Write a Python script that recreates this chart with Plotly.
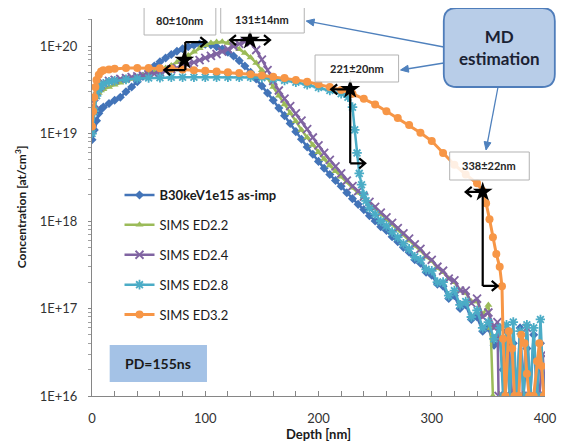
import math
import plotly.graph_objects as go

# ---------------- data ----------------
asimp_depth = [0, 2, 4, 6, 8, 10, 15, 20, 25, 30, 35, 40, 45, 50, 55, 60, 65, 70, 75, 80, 85, 90, 95, 100,
               105, 110, 115, 120, 125, 130, 135, 140, 145, 150, 155, 160, 165, 170, 175, 180, 185, 190,
               195, 200, 205, 210, 215, 220, 225, 230, 235, 240, 245, 250, 255, 260, 265, 270, 275, 280,
               285, 290, 295, 300, 305, 310, 315, 320, 325, 330, 335, 340, 345, 350, 355, 360, 363, 366,
               369, 372, 375, 378, 381, 384, 387, 390, 393, 396, 399]
asimp_conc = [8.5e18, 1.1e19, 1.4e19, 1.7e19, 1.9e19, 2.0e19, 2.2e19, 2.4e19, 2.6e19, 3.0e19, 3.4e19,
              3.9e19, 4.5e19, 5.2e19, 5.9e19, 6.6e19, 7.3e19, 8.0e19, 8.7e19, 9.3e19, 9.8e19, 1.02e20,
              1.05e20, 1.05e20, 1.03e20, 9.8e19, 9.2e19, 8.5e19, 7.7e19, 6.8e19, 5.9e19, 5.0e19, 4.2e19,
              3.5e19, 2.9e19, 2.4e19, 1.95e19, 1.6e19, 1.3e19, 1.05e19, 8.6e18, 7.0e18, 5.8e18, 4.8e18,
              4.0e18, 3.4e18, 2.9e18, 2.5e18, 2.1e18, 1.8e18, 1.55e18, 1.35e18, 1.15e18, 1.0e18, 8.6e17,
              7.8e17, 6.6e17, 5.8e17, 5.0e17, 4.4e17, 3.6e17, 3.3e17, 2.6e17, 2.4e17, 1.9e17, 1.8e17,
              1.3e17, 1.4e17, 1.0e17, 1.1e17, 7.5e16, 8.0e16, 5.5e16, 6.0e16, 3.8e16, 4.5e16, 2.0e16,
              5.5e16, 1.0e16, 4.0e16, 1.0e16, 6.0e16, 1.0e16, 3.5e16, 1.0e16, 5.0e16, 1.0e16, 4.0e16, 1.0e16]

ed22_depth = [0, 2, 4, 6, 8, 10, 15, 20, 25, 30, 35, 40, 45, 50, 55, 60, 65, 70, 75, 80, 85, 90, 95, 100,
              105, 110, 115, 120, 125, 130, 135, 140, 145, 150, 155, 160, 165, 170, 175, 180, 185, 190,
              195, 200, 205, 210, 215, 220, 225, 230, 235, 240, 245, 250, 255, 260, 265, 270, 275, 280,
              285, 290, 295, 300, 305, 310, 315, 320, 325, 330, 335, 340, 345, 350, 352, 354]
ed22_conc = [1.2e19, 2.0e19, 2.6e19, 2.9e19, 3.1e19, 3.2e19, 3.4e19, 3.6e19, 3.8e19, 4.0e19, 4.2e19,
             4.4e19, 4.6e19, 4.8e19, 5.0e19, 5.3e19, 5.6e19, 6.0e19, 6.5e19, 7.1e19, 7.8e19, 8.6e19,
             9.4e19, 1.02e20, 1.08e20, 1.11e20, 1.12e20, 1.08e20, 1.0e20, 9.2e19, 8.3e19, 7.4e19, 6.4e19,
             5.3e19, 4.3e19, 3.4e19, 2.7e19, 2.15e19, 1.7e19, 1.38e19, 1.1e19, 9.0e18, 7.4e18, 6.1e18,
             5.1e18, 4.3e18, 3.7e18, 3.2e18, 2.8e18, 2.4e18, 2.1e18, 1.85e18, 1.6e18, 1.4e18, 1.2e18,
             1.05e18, 9.2e17, 8.0e17, 7.0e17, 6.0e17, 5.2e17, 4.6e17, 3.9e17, 3.5e17, 2.9e17, 2.6e17,
             2.2e17, 2.0e17, 1.6e17, 1.5e17, 1.2e17, 1.2e17, 8.5e16, 1.1e17, 6.0e16, 1.0e16]

ed24_depth = [0, 2, 4, 6, 8, 10, 15, 20, 25, 30, 35, 40, 45, 50, 55, 60, 65, 70, 75, 80, 85, 90, 95, 100,
              105, 110, 115, 120, 125, 130, 135, 140, 145, 150, 155, 160, 165, 170, 175, 180, 185, 190,
              195, 200, 205, 210, 215, 220, 225, 230, 235, 240, 245, 250, 255, 260, 265, 270, 275, 280,
              285, 290, 295, 300, 305, 310, 315, 320, 325, 330, 335, 340, 345, 350, 355, 358, 359, 365,
              368, 371, 380, 384, 387, 395, 398, 400]
ed24_conc = [1.1e19, 2.2e19, 3.0e19, 3.4e19, 3.6e19, 3.8e19, 4.0e19, 4.1e19, 4.2e19, 4.3e19, 4.4e19,
             4.5e19, 4.6e19, 4.7e19, 4.8e19, 5.0e19, 5.2e19, 5.4e19, 5.6e19, 5.9e19, 6.2e19, 6.5e19,
             6.9e19, 7.3e19, 7.7e19, 8.1e19, 8.6e19, 9.2e19, 9.9e19, 1.06e20, 1.12e20, 1.1e20, 9.0e19,
             7.0e19, 5.3e19, 4.0e19, 3.1e19, 2.5e19, 2.05e19, 1.7e19, 1.4e19, 1.12e19, 9.0e18, 7.3e18,
             6.0e18, 5.0e18, 4.2e18, 3.5e18, 2.9e18, 2.5e18, 2.2e18, 1.9e18, 1.65e18, 1.45e18, 1.25e18,
             1.1e18, 9.5e17, 8.3e17, 7.2e17, 6.3e17, 5.4e17, 4.8e17, 4.0e17, 3.6e17, 3.0e17, 2.7e17,
             2.2e17, 2.1e17, 1.6e17, 1.6e17, 1.15e17, 1.3e17, 8.0e16, 9.0e16, 6.0e16, 7.0e16, 1.0e16,
             1.0e16, 4.0e16, 1.0e16, 1.0e16, 6.0e16, 1.0e16, 1.0e16, 3.0e16, 1.0e16]

ed28_depth = [0, 2, 4, 6, 8, 10, 15, 20, 30, 40, 50, 60, 70, 80, 90, 100, 110, 120, 130, 140, 150, 160,
              170, 180, 190, 200, 210, 220, 226, 230, 232, 234, 236, 238, 240, 242, 245, 250, 255, 260,
              265, 270, 275, 280, 285, 290, 295, 300, 305, 310, 315, 320, 325, 330, 335, 340, 345, 350,
              355, 360, 363, 366, 369, 372, 375, 378, 381, 384, 387, 390, 393, 396, 399]
ed28_conc = [1.0e19, 1.8e19, 2.7e19, 3.2e19, 3.5e19, 3.7e19, 3.9e19, 4.0e19, 4.15e19, 4.25e19, 4.3e19,
             4.35e19, 4.4e19, 4.4e19, 4.4e19, 4.4e19, 4.4e19, 4.4e19, 4.4e19, 4.4e19, 4.35e19, 4.2e19,
             4.05e19, 3.85e19, 3.6e19, 3.35e19, 3.1e19, 2.85e19, 2.6e19, 2.0e19, 1.1e19, 6.0e18, 3.5e18,
             2.6e18, 2.0e18, 1.7e18, 1.4e18, 1.2e18, 1.0e18, 8.8e17, 7.5e17, 6.5e17, 5.5e17, 4.8e17,
             3.9e17, 3.6e17, 2.8e17, 2.7e17, 2.0e17, 2.0e17, 1.4e17, 1.6e17, 1.1e17, 1.2e17, 8.0e16,
             9.5e16, 6.0e16, 7.0e16, 4.5e16, 6.0e16, 1.0e16, 6.5e16, 1.0e16, 7.0e16, 1.0e16, 5.5e16,
             1.0e16, 6.5e16, 1.0e16, 6.0e16, 1.0e16, 7.5e16, 1.0e16]

ed32_depth = [0, 1, 2, 3, 4, 6, 8, 10, 15, 20, 30, 40, 50, 60, 70, 80, 90, 100, 110, 120, 130, 140, 150,
              160, 170, 180, 190, 200, 210, 220, 230, 240, 250, 260, 270, 280, 290, 300, 310, 320, 330,
              340, 345, 348, 351, 354, 357, 360, 362, 363, 365, 368, 371, 373, 377, 379, 382, 384, 386,
              390, 393, 395, 397, 399]
ed32_conc = [1.2e19, 1.8e19, 2.6e19, 3.4e19, 4.1e19, 4.7e19, 5.1e19, 5.3e19, 5.4e19, 5.5e19, 5.6e19,
             5.6e19, 5.6e19, 5.55e19, 5.5e19, 5.4e19, 5.3e19, 5.2e19, 5.1e19, 5.0e19, 4.9e19, 4.75e19,
             4.6e19, 4.45e19, 4.3e19, 4.1e19, 3.9e19, 3.65e19, 3.4e19, 3.15e19, 2.85e19, 2.5e19, 2.15e19,
             1.8e19, 1.5e19, 1.25e19, 1.02e19, 8.2e18, 6.0e18, 4.4e18, 3.4e18, 2.7e18, 2.2e18, 1.6e18,
             1.05e18, 6.5e17, 4.2e17, 3.0e17, 1.8e17, 4.5e16, 1.0e16, 5.5e16, 3.5e16, 1.0e16, 1.0e16,
             5.0e16, 4.0e16, 1.8e16, 1.0e16, 1.0e16, 2.5e16, 4.0e16, 2.2e16, 1.0e16]

series_names = ["<b>B30keV1e15 as-imp</b>", "SIMS ED2.2", "SIMS ED2.4", "SIMS ED2.8", "SIMS ED3.2"]

# MD-estimated depths (star positions) and their labels
md_depth = [81.5, 139.5, 228.0, 345.0]
md_conc = [6.9e19, 1.17e20, 3.2e19, 2.15e18]
md_labels = ["80±10nm", "131±14nm", "221±20nm", "338±22nm"]

y_tick_vals = [1e16, 1e17, 1e18, 1e19, 1e20]
y_tick_text = ["1E+16", "1E+17", "1E+18", "1E+19", "1E+20"]
x_tick_vals = [0, 100, 200, 300, 400]

# ---------------- geometry helpers ----------------
# page body has an 8px margin, so the figure is drawn 8px in from the top-left corner
W, H = 560, 436
L, R, T, B = 84, 15, 11, 48
PW, PH = W - L - R, H - T - B
SX0, SY1 = 92, 396          # screen position of the plot's left edge and bottom edge
YMIN, YMAX = 16.0, 16.0 + PH / 87.5
FONT = "Lato"


def P(px, py):
    """screen pixel -> paper coordinates"""
    return (px - SX0) / PW, (SY1 - py) / PH


def y_paper(c):
    return (math.log10(c) - YMIN) / (YMAX - YMIN)


colors = ["#4374B8", "#9BBB59", "#8064A2", "#4BACC6", "#F79646"]

fig = go.Figure()

series = [
    (asimp_depth, asimp_conc, dict(symbol="diamond", size=7, color=colors[0]), 2.5),
    (ed22_depth, ed22_conc, dict(symbol="triangle-up", size=7, color=colors[1]), 2.5),
    (ed24_depth, ed24_conc, dict(symbol="x-thin", size=8, color=colors[2],
                                 line=dict(width=1.8, color=colors[2])), 2.5),
    (ed28_depth, ed28_conc, dict(symbol="asterisk", size=8, color=colors[3],
                                 line=dict(width=1.8, color=colors[3])), 2.5),
    (ed32_depth, ed32_conc, dict(symbol="circle", size=8, color=colors[4]), 3),
]
for i, (dx, dy, mk, lw) in enumerate(series):
    fig.add_trace(go.Scatter(
        x=dx, y=dy, mode="lines+markers", name=series_names[i],
        legendgroup=f"g{i}",
        line=dict(color=colors[i], width=lw),
        marker=mk,
    ))

# MD stars
fig.add_trace(go.Scatter(
    x=md_depth, y=md_conc, mode="markers", showlegend=False,
    marker=dict(symbol="star", size=15, color="black"),
))

shapes = []
annotations = []


def chev(tx, ty, direction):
    if direction == "left":
        return [(tx + 6, ty - 5), (tx, ty), (tx + 6, ty + 5)]
    return [(tx - 6, ty - 5), (tx, ty), (tx - 6, ty + 5)]


def pix_path(polylines):
    parts = []
    for pl in polylines:
        parts.append("M" + " L".join(f"{dx},{-dy}" for dx, dy in pl))
    return " ".join(parts)


arrow_geo = [
    [[(1, -18), (1, 10)], [(1, -18), (22, -18)], chev(22, -18, "right"),
     [(1, 10), (-20, 10)], chev(-20, 10, "left")],
    [[(-20, 0), (20, 0)], chev(-20, 0, "left"), chev(20, 0, "right")],
    [[(0, 0), (-19, 0)], chev(-19, 0, "left"), [(0, 0), (0, 74)], [(0, 74), (15, 74)],
     chev(15, 74, "right")],
    [[(0, 0), (-17, 0)], chev(-17, 0, "left"), [(0, 0), (0, 94)], [(0, 94), (15, 94)],
     chev(15, 94, "right")],
]
for i, geo in enumerate(arrow_geo):
    shapes.append(dict(
        type="path", xref="x", yref="paper", xsizemode="pixel", ysizemode="pixel",
        xanchor=md_depth[i], yanchor=y_paper(md_conc[i]),
        path=pix_path(geo), line=dict(color="black", width=2.2), layer="above",
    ))

# label boxes
label_boxes = [(145, 7, 218, 35), (223, 5, 308, 33), (319, 55, 404, 82), (456, 152, 537, 180)]
for (x0, y0, x1, y1), txt in zip(label_boxes, md_labels):
    a0 = P(x0, y1)
    a1 = P(x1, y0)
    shapes.append(dict(type="rect", xref="paper", yref="paper", x0=a0[0], y0=a0[1], x1=a1[0], y1=a1[1],
                       fillcolor="rgba(255,255,255,0.85)", line=dict(color="#b3b3b3", width=1),
                       layer="above"))
    c = P((x0 + x1) / 2, (y0 + y1) / 2)
    annotations.append(dict(xref="paper", yref="paper", x=c[0], y=c[1], text=f"<b>{txt}</b>",
                            showarrow=False, font=dict(family=FONT, size=11, color="#262626"),
                            xanchor="center", yanchor="middle"))


def fmt(px, py):
    a = P(px, py)
    return f"{a[0]:.5f},{a[1]:.5f}"


# rounded MD box
def rounded(px0, py0, px1, py1, r):
    return (f"M{fmt(px0 + r, py0)} L{fmt(px1 - r, py0)} Q{fmt(px1, py0)} {fmt(px1, py0 + r)} "
            f"L{fmt(px1, py1 - r)} Q{fmt(px1, py1)} {fmt(px1 - r, py1)} L{fmt(px0 + r, py1)} "
            f"Q{fmt(px0, py1)} {fmt(px0, py1 - r)} L{fmt(px0, py0 + r)} Q{fmt(px0, py0)} {fmt(px0 + r, py0)} Z")


shapes.append(dict(type="path", xref="paper", yref="paper", path=rounded(450, 8, 563, 87, 13),
                   fillcolor="#B8CDE8", line=dict(color="#4F7DBA", width=1.8), layer="above"))
c = P(507, 47)
annotations.append(dict(xref="paper", yref="paper", x=c[0], y=c[1], text="<b>MD<br>estimation</b>",
                        showarrow=False, font=dict(family=FONT, size=17, color="#1b2233"),
                        xanchor="center", yanchor="middle"))

# blue pointer arrows from MD box (line + filled head)
for (tx, ty), (sx, sy) in [((310, 21), (450, 47)), ((406, 70), (450, 63)), ((493, 150), (505, 88))]:
    d = math.hypot(tx - sx, ty - sy)
    ux, uy = (tx - sx) / d, (ty - sy) / d
    hl, hw = 8.0, 3.5
    bx, by = tx - ux * hl, ty - uy * hl
    a = P(sx, sy)
    b = P(bx, by)
    shapes.append(dict(type="line", xref="paper", yref="paper", x0=a[0], y0=a[1], x1=b[0], y1=b[1],
                       line=dict(color="#4F81BD", width=1.3), layer="above"))
    path = (f"M{fmt(tx, ty)} L{fmt(bx - uy * hw, by + ux * hw)} L{fmt(bx + uy * hw, by - ux * hw)} Z")
    shapes.append(dict(type="path", xref="paper", yref="paper", path=path,
                       fillcolor="#4F81BD", line=dict(color="#4F81BD", width=1), layer="above"))

# PD box
a0 = P(110, 382)
a1 = P(209, 345)
shapes.append(dict(type="rect", xref="paper", yref="paper", x0=a0[0], y0=a0[1], x1=a1[0], y1=a1[1],
                   fillcolor="#A4C2E6", line=dict(width=0), layer="above"))
c = P(159.5, 363.5)
annotations.append(dict(xref="paper", yref="paper", x=c[0], y=c[1], text="<b>PD=155ns</b>",
                        showarrow=False, font=dict(family=FONT, size=14, color="#1a1a1a"),
                        xanchor="center", yanchor="middle"))

# axis titles
c = P(322, 434)
annotations.append(dict(xref="paper", yref="paper", x=c[0], y=c[1], text="<b>Depth [nm]</b>",
                        showarrow=False, font=dict(family=FONT, size=13, color="#1a1a1a"),
                        xanchor="center", yanchor="middle"))
c = P(20, 207)
annotations.append(dict(xref="paper", yref="paper", x=c[0], y=c[1],
                        text="<b>Concentration [at/cm<sup>3</sup>]</b>", textangle=-90,
                        showarrow=False, font=dict(family=FONT, size=12, color="#1a1a1a"),
                        xanchor="center", yanchor="middle"))

lg = P(120, 180)
fig.update_layout(
    width=W, height=H,
    margin=dict(l=L, r=R, t=T, b=B),
    paper_bgcolor="white", plot_bgcolor="white",
    font=dict(family=FONT, size=13, color="#333333"),
    showlegend=True,
    legend=dict(x=lg[0], y=lg[1], xanchor="left", yanchor="top", bgcolor="rgba(0,0,0,0)",
                font=dict(family=FONT, size=13, color="#1a1a1a"), tracegroupgap=10,
                itemwidth=30),
    shapes=shapes,
    annotations=annotations,
    xaxis=dict(range=[0, 400], tickvals=x_tick_vals, ticks="inside", ticklen=5, tickcolor="#868686",
               showline=True, linecolor="#868686", linewidth=1, showgrid=False, zeroline=False,
               tickfont=dict(family=FONT, size=13, color="#333333"), ticklabelstandoff=10,
               minor=dict(dtick=20, ticks="inside", ticklen=5, tickcolor="#868686", showgrid=False)),
    yaxis=dict(type="log", range=[YMIN, YMAX], tickvals=y_tick_vals, ticktext=y_tick_text,
               ticks="outside", ticklen=3, tickcolor="#868686",
               showline=True, linecolor="#868686", linewidth=1, showgrid=False, zeroline=False,
               tickfont=dict(family=FONT, size=13, color="#333333"), ticklabelstandoff=8,
               minor=dict(dtick="D1", ticks="outside", ticklen=3, tickcolor="#a0a0a0", showgrid=False)),
)

fig.write_html("out.html")
